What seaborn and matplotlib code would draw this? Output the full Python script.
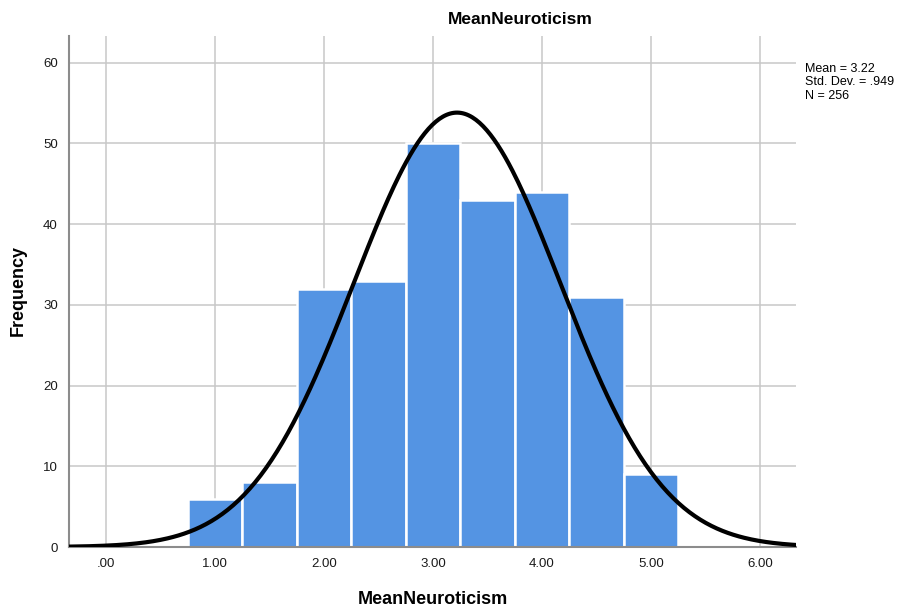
import numpy as np
import pandas as pd
import matplotlib
matplotlib.use("Agg")
import matplotlib.pyplot as plt
import seaborn as sns

# histogram
bin_edges = [0.75, 1.25, 1.75, 2.25, 2.75, 3.25, 3.75, 4.25, 4.75, 5.25]
bin_centers = [1.0, 1.5, 2.0, 2.5, 3.0, 3.5, 4.0, 4.5, 5.0]
counts = [6, 8, 32, 33, 50, 43, 44, 31, 9]
mean_val = 3.22
sd_val = 0.949
n_val = 256
x_ticks = [0, 1, 2, 3, 4, 5, 6]
x_tick_labels = [".00", "1.00", "2.00", "3.00", "4.00", "5.00", "6.00"]
y_ticks = [0, 10, 20, 30, 40, 50, 60]

sns.set_style("white")
plt.rcParams["font.family"] = ["Liberation Sans", "DejaVu Sans"]
plt.rcParams["text.color"] = "black"

fig = plt.figure(figsize=(9.07, 6.14), dpi=100)
ax = fig.add_axes([69 / 907, 1 - 547 / 614, (796 - 69) / 907, (547 - 36) / 614])

df = pd.DataFrame({"value": bin_centers, "count": counts})
sns.histplot(data=df, x="value", weights="count", bins=bin_edges, ax=ax,
             color="#5494e3", alpha=1, edgecolor="white", linewidth=1.8, zorder=2)

# fitted normal curve (scaled to counts per bin)
bw = bin_edges[1] - bin_edges[0]
xs = np.linspace(-0.34, 6.34, 400)
ys = n_val * bw * np.exp(-0.5 * ((xs - mean_val) / sd_val) ** 2) / (sd_val * np.sqrt(2 * np.pi))
sns.lineplot(x=xs, y=ys, ax=ax, color="black", linewidth=3, zorder=3)

ax.set_xlim(-0.34, 6.33)
ax.set_ylim(0, 63.3)
ax.set_xticks(x_ticks)
ax.set_xticklabels(x_tick_labels)
ax.set_yticks(y_ticks)
ax.tick_params(axis="both", length=0, labelsize=9.5, colors="#1a1a1a", pad=8)
ax.grid(True, color="#c8c8c8", linewidth=1.1, zorder=0)
ax.set_axisbelow(True)
for side in ["top", "right"]:
    ax.spines[side].set_visible(False)
for side in ["left", "bottom"]:
    ax.spines[side].set_color("#8c8c8c")
    ax.spines[side].set_linewidth(1.5)

ax.set_xlabel("")
ax.set_ylabel("")
fig.text(433 / 907, 1 - 600 / 614, "MeanNeuroticism", ha="center", va="center",
         fontsize=13, fontweight="bold")
fig.text(18 / 907, 1 - 290 / 614, "Frequency", ha="center", va="center",
         rotation=90, fontsize=13, fontweight="bold")
fig.text(520 / 907, 1 - 20 / 614, "MeanNeuroticism", ha="center", va="center",
         fontsize=12.5, fontweight="bold")
fig.text(805 / 907, 1 - 63 / 614,
         f"Mean = {mean_val:.2f}\nStd. Dev. = .949\nN = {n_val}",
         ha="left", va="top", fontsize=9, linespacing=1.15)

fig.savefig("out.png", dpi=100)
